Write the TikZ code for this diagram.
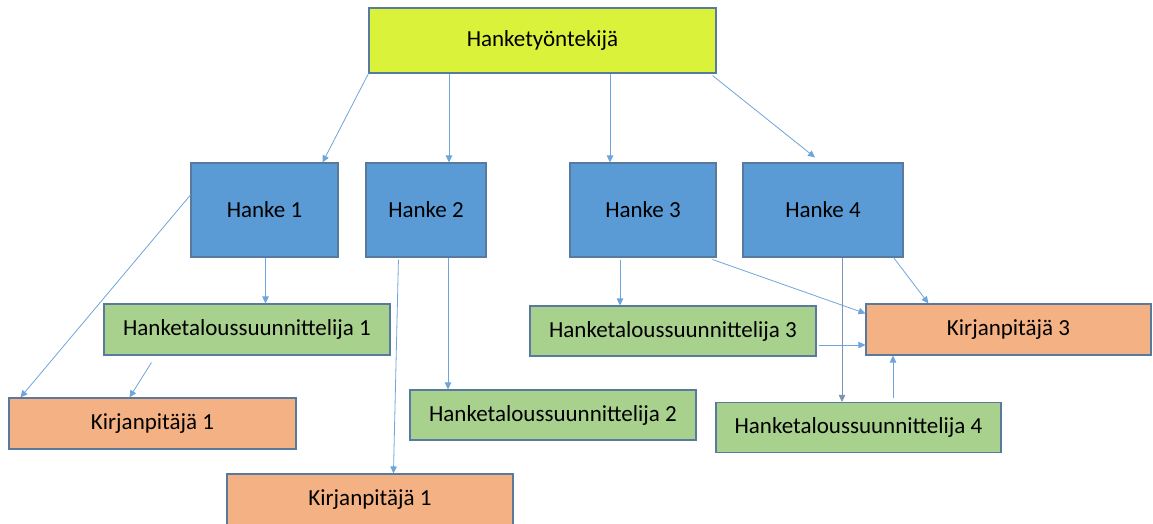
\documentclass[tikz,border=0pt]{standalone}
\usepackage{fontspec}
\setmainfont{Carlito}
\usetikzlibrary{arrows.meta}
\definecolor{topfill}{RGB}{218,242,58}
\definecolor{hankefill}{RGB}{91,155,213}
\definecolor{talousfill}{RGB}{169,209,142}
\definecolor{kirjafill}{RGB}{244,177,131}
\definecolor{boxline}{RGB}{88,122,158}
\definecolor{linkcol}{RGB}{110,165,218}
\tikzset{
  box/.style={draw=boxline, line width=1.1pt, inner sep=0pt, font=\fontsize{23}{27}\selectfont},
  link/.style={draw=linkcol, line width=0.8pt, -{Triangle[length=7pt,width=6.5pt]}}
}
\begin{document}
\begin{tikzpicture}[x=1pt,y=-1pt]
\useasboundingbox (0,0) rectangle (1153,524);
\node[box, fill=topfill, minimum width=347pt, minimum height=65pt] (top) at (542.5,40.5){Hanketyöntekijä};
\node[box, fill=hankefill, minimum width=147pt, minimum height=94pt] (h1) at (264.5,210){Hanke 1};
\node[box, fill=hankefill, minimum width=120pt, minimum height=94pt] (h2) at (426,210){Hanke 2};
\node[box, fill=hankefill, minimum width=146pt, minimum height=94pt] (h3) at (643,210){Hanke 3};
\node[box, fill=hankefill, minimum width=160pt, minimum height=94pt] (h4) at (823,210){Hanke 4};
\node[box, fill=talousfill, minimum width=286pt, minimum height=51pt] (t1) at (247,329.5){Hanketaloussuunnittelija 1};
\node[box, fill=talousfill, minimum width=286pt, minimum height=50pt] (t2) at (553,415){Hanketaloussuunnittelija 2};
\node[box, fill=talousfill, minimum width=286pt, minimum height=50pt] (t3) at (673,331){Hanketaloussuunnittelija 3};
\node[box, fill=talousfill, minimum width=285pt, minimum height=50pt] (t4) at (858.5,427.5){Hanketaloussuunnittelija 4};
\node[box, fill=kirjafill, minimum width=287pt, minimum height=51pt] (k1a) at (152.5,423.5){Kirjanpitäjä 1};
\node[box, fill=kirjafill, minimum width=286pt, minimum height=52pt] (k1b) at (370,500){Kirjanpitäjä 1};
\node[box, fill=kirjafill, minimum width=285pt, minimum height=51pt] (k3) at (1008.5,329.5){Kirjanpitäjä 3};
% top level
\draw[link] (top.south west) -- ([xshift=-16pt]h1.north east);
\draw[link] ([xshift=-93.5pt]top.south) -- ([xshift=23pt]h2.north);
\draw[link] ([xshift=67.5pt]top.south) -- ([xshift=-33pt]h3.north);
\draw[link] ([xshift=-4pt,yshift=-2pt]top.south east) -- ([xshift=-8pt,yshift=5pt]h4.north);
% hanke 1
\draw[link] ([yshift=15pt]h1.west) -- ([xshift=12pt]k1a.north west);
\draw[link] ([xshift=1pt]h1.south) -- ([xshift=1pt]h1.south |- t1.north);
\draw[link] ([xshift=48pt,yshift=-7pt]t1.south west) -- ([xshift=-23pt]k1a.north);
% hanke 2
\draw[link] ([xshift=33pt,yshift=-2pt]h2.south west) -- ([xshift=167pt]k1b.north west);
\draw[link] ([xshift=22pt]h2.south) -- ([xshift=22pt]h2.south |- t2.north);
% hanke 3
\draw[link] ([xshift=-23pt,yshift=-2pt]h3.south) -- ([xshift=-23pt]h3.south |- t3.north);
\draw[link] ([xshift=-4pt,yshift=-2pt]h3.south east) -- ([yshift=-10pt]k3.north west);
\draw[link] ([xshift=2pt,yshift=-14pt]t3.east) -- ([yshift=-14pt]t3.east -| k3.west);
% hanke 4
\draw[link] ([xshift=-10pt]h4.south east) -- ([xshift=63pt]k3.north west);
\draw[link, draw=boxline!80] ([xshift=19pt]h4.south) -- ([xshift=19pt]h4.south |- t4.north);
\draw[link] ([xshift=34.5pt,yshift=4pt]t4.north) -- ([xshift=34.5pt]t4.north |- k3.south);
\end{tikzpicture}
\end{document}
